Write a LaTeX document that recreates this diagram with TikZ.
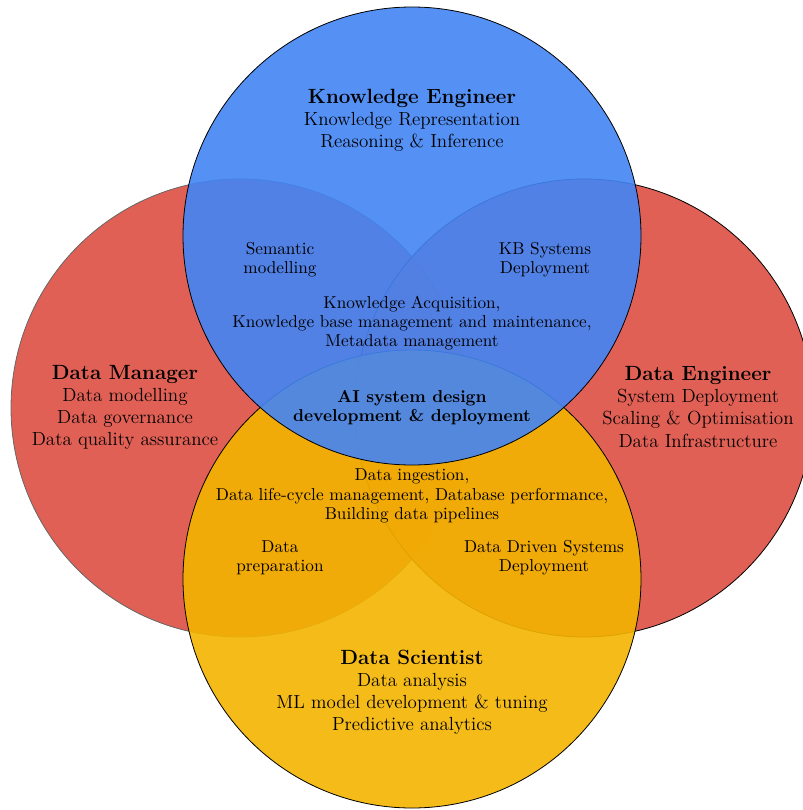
\documentclass[tikz,border=0pt]{standalone}
\definecolor{gred}{RGB}{219,68,55}
\definecolor{gblue}{RGB}{66,133,244}
\definecolor{gyellow}{RGB}{244,180,0}
\newcommand{\roletitle}[1]{{\fontsize{12.8}{13.7}\selectfont\bfseries #1}}
\tikzset{
  role/.style={circle, inner sep=0pt, draw=black, line width=0.5pt, minimum size=458*0.6215pt},
  mainlbl/.style={align=center, font=\fontsize{11.8}{13.7}\selectfont, inner sep=0pt},
  sublbl/.style={align=center, font=\fontsize{10.7}{11.9}\selectfont, inner sep=0pt},
}
\begin{document}
\begin{tikzpicture}[x=0.6215pt, y=-0.6215pt]
\useasboundingbox (0,0) rectangle (803,810);
\begin{scope}
\clip (0,0) rectangle (803,810);
\node[role, fill=gred, fill opacity=0.85, draw=black!60] (dm) at (240,408) {};
\node[role, fill=gred, fill opacity=0.85] (de) at (584,408) {};
\node[role, fill=gyellow, fill opacity=0.9] (ds) at (412,579) {};
\node[role, fill=gblue, fill opacity=0.9] (ke) at (412,236) {};
\end{scope}
\node[mainlbl] (tke) at (412,120) {\roletitle{Knowledge Engineer}\\Knowledge Representation\\Reasoning \& Inference};
\node[mainlbl] (tdm) at (125,407) {\roletitle{Data Manager}\\Data modelling\\Data governance\\Data quality assurance};
\node[mainlbl] (tde) at (698,407) {\roletitle{Data Engineer}\\System Deployment\\Scaling \& Optimisation\\Data Infrastructure};
\node[mainlbl] (tds) at (412,692) {\roletitle{Data Scientist}\\Data analysis\\ML model development \& tuning\\Predictive analytics};
\node[sublbl] (sem) at (280,260) {Semantic\\modelling};
\node[sublbl] (kb) at (545,260) {KB Systems\\Deployment};
\node[sublbl] (ka) at (412,323) {Knowledge Acquisition,\\Knowledge base management and maintenance,\\Metadata management};
\node[sublbl, font=\fontsize{10.7}{11.9}\selectfont\bfseries] (ai) at (412,408) {AI system design\\development \& deployment};
\node[sublbl] (di) at (412,496) {Data ingestion,\\Data life-cycle management, Database performance,\\Building data pipelines};
\node[sublbl] (dp) at (280,558) {Data\\preparation};
\node[sublbl] (dd) at (544,558) {Data Driven Systems\\Deployment};
\end{tikzpicture}
\end{document}
